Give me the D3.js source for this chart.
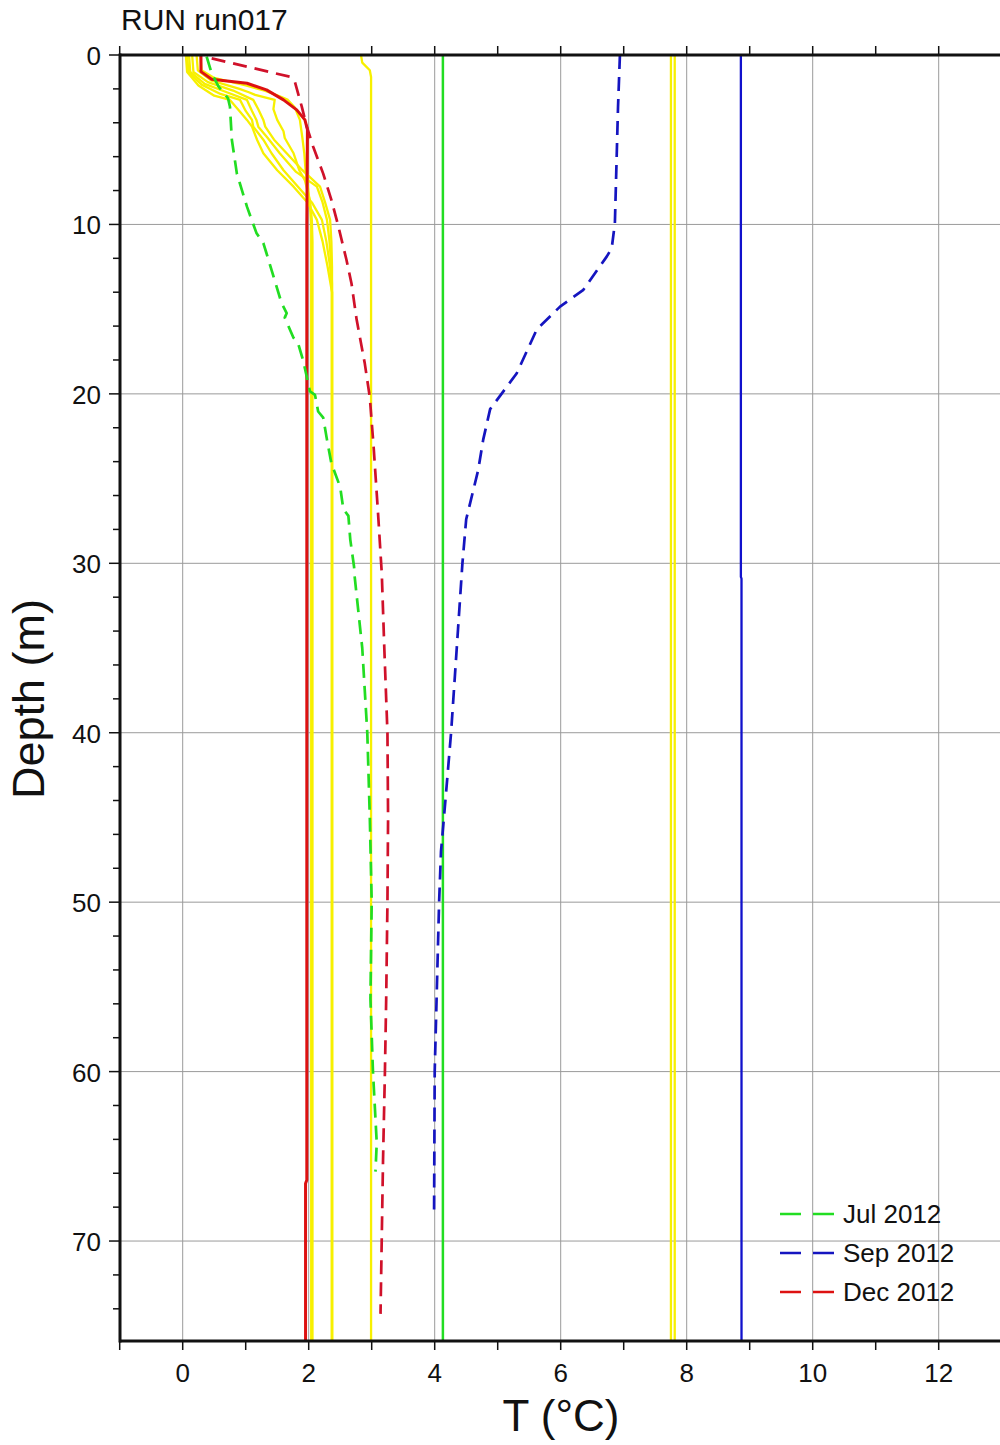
<!DOCTYPE html>
<html>
<head>
<meta charset="utf-8">
<script src="https://cdn.jsdelivr.net/npm/d3@7"></script>
<style>
  html, body { margin: 0; padding: 0; background: #fff; }
  svg { display: block; font-family: "Liberation Sans", Arial, Helvetica, sans-serif; }
</style>
</head>
<body>
<svg id="chart" width="1000" height="1445"></svg>
<script>
// ---------------- DATA ----------------
const title = "RUN run017";
const xLabel = "T (°C)";
const yLabel = "Depth (m)";
const xTicks = [0, 2, 4, 6, 8, 10, 12];
const yTicks = [0, 10, 20, 30, 40, 50, 60, 70];
const legendLabels = ["Jul 2012", "Sep 2012", "Dec 2012"];

// model run profiles (yellow, solid): [T, depth]
const runA = [[0.28,0],[0.3,0.9],[0.5,1.35],[1.0,1.8],[1.3,2.1],[1.55,2.45],[1.67,2.65],[1.78,3.1],[1.86,3.83],[1.9,4.9],[1.93,5.8],[1.95,6.8],[1.98,7.6],[2.02,8.8],[2.04,10],[2.04,75.9]];
const runB = [[0.22,0],[0.24,0.9],[0.45,1.5],[0.9,2.0],[1.05,2.2],[1.15,2.35],[1.46,2.65],[1.44,3.2],[1.5,3.83],[1.6,4.5],[1.62,4.9],[1.76,5.8],[1.85,6.8],[1.94,7.4],[2.02,8.6],[2.05,9.73],[2.06,11],[2.06,75.9]];
const runC = [[0.15,0],[0.17,1.0],[0.4,1.6],[0.8,2.1],[1.12,2.65],[1.2,3.2],[1.28,3.83],[1.31,4.23],[1.45,5.0],[1.65,5.8],[1.9,6.8],[2.18,7.77],[2.26,8.7],[2.34,9.73],[2.36,11],[2.37,12.5],[2.37,75.9]];
const runD = [[0.1,0],[0.12,1.0],[0.35,1.7],[0.7,2.2],[1.02,2.65],[1.1,3.3],[1.17,3.83],[1.2,4.23],[1.35,4.9],[1.54,5.8],[1.8,6.9],[2.13,7.77],[2.22,8.7],[2.29,9.73],[2.33,11],[2.36,12.5],[2.37,13.5],[2.37,75.9]];
const runE = [[0.07,0],[0.09,1.0],[0.3,1.75],[0.6,2.3],[0.91,2.65],[1.0,3.3],[1.1,3.83],[1.12,4.23],[1.28,5.0],[1.41,5.8],[1.6,6.8],[1.83,7.77],[2.05,8.7],[2.21,9.73],[2.28,11],[2.34,12.5],[2.37,14],[2.37,75.9]];
const runF = [[0.05,0],[0.07,1.0],[0.25,1.8],[0.5,2.4],[0.75,2.65],[0.9,3.3],[1.02,3.83],[1.1,4.23],[1.18,5.0],[1.28,5.8],[1.5,6.8],[1.76,7.77],[1.98,8.7],[2.13,9.73],[2.22,11],[2.3,12.5],[2.37,14],[2.37,75.9]];
const runG = [[2.83,0],[2.85,0.45],[2.97,0.9],[2.99,1.3],[2.99,75.9]];
const runH = [[7.75,0],[7.75,75.9]];
const runI = [[7.81,0],[7.81,75.9]];
const yellowRuns = [runA, runB, runC, runD, runE, runF, runG, runH, runI];

// model run profiles (coloured, solid)
const runGreen = [[4.13,0],[4.13,75.9]];
const runBlue = [[8.86,0],[8.86,30.8],[8.87,30.9],[8.87,75.9]];
const runRed = [[0.29,0],[0.29,0.98],[0.46,1.43],[1.02,1.67],[1.33,2.06],[1.6,2.65],[1.81,3.24],[1.94,3.83],[1.98,4.4],[1.97,10],[1.97,66.4],[1.95,66.6],[1.95,75.9]];

// observations (dashed)
const obsJul = [[0.38,0.1],[0.46,1.08],[0.57,1.87],[0.72,2.56],[0.75,3.05],[0.78,5.0],[0.86,7.0],[1.02,8.95],[1.17,10.5],[1.28,11.1],[1.33,11.7],[1.46,13.3],[1.57,14.65],[1.65,15.24],[1.62,15.5],[1.76,16.7],[1.83,17],[1.91,18],[1.97,19.0],[2.02,19.86],[2.1,20.06],[2.15,21.04],[2.23,21.4],[2.29,22.7],[2.36,24.1],[2.5,25.5],[2.55,26.8],[2.63,27.2],[2.66,28.6],[2.72,30.2],[2.73,30.8],[2.85,35],[2.93,40],[2.97,45],[3.0,50],[2.98,55.7],[3.02,60],[3.08,64.2],[3.06,65.9]];
const obsSep = [[6.94,0],[6.91,3.05],[6.86,9.93],[6.81,11.4],[6.73,11.9],[6.36,13.86],[5.99,14.85],[5.62,16.2],[5.3,18.8],[4.88,20.9],[4.77,22.7],[4.69,24.5],[4.5,27.4],[4.44,30],[4.37,33.9],[4.26,40],[4.17,44],[4.1,47],[4.07,50],[4.03,55.7],[4.0,60],[3.99,68.3]];
const obsDec = [[0.46,0.2],[1.7,1.28],[1.78,1.57],[1.89,3.05],[1.97,4.23],[2.07,5.4],[2.23,7.0],[2.36,8.55],[2.47,10.1],[2.6,12.1],[2.68,13.5],[2.76,15.6],[2.89,18.2],[2.97,20.2],[3.03,23.1],[3.1,27.0],[3.16,30.6],[3.2,35],[3.25,40],[3.26,45],[3.25,50],[3.23,55.7],[3.21,60],[3.18,65.2],[3.14,74.3]];

// ---------------- DRAW ----------------
const svg = d3.select("#chart");
const L = 120, R = 1001, T = 55, B = 1341;
const x = d3.scaleLinear().domain([-1, 13]).range([119.7, 1001.7]);
const y = d3.scaleLinear().domain([0, 75.9]).range([T, B]);

const cYellow = "#f7f000", cGreen = "#22dd22", cBlue = "#1111cc", cRed = "#dd1111";

svg.append("defs").append("clipPath").attr("id", "clip")
  .append("rect").attr("x", L).attr("y", T).attr("width", R - L).attr("height", B - T);

// grid
const grid = svg.append("g").attr("stroke", "#9a9a9a").attr("stroke-width", 1);
grid.selectAll(".gx").data(xTicks).join("line")
  .attr("x1", d => x(d)).attr("x2", d => x(d)).attr("y1", T).attr("y2", B);
grid.selectAll(".gy").data(yTicks.filter(d => d > 0)).join("line")
  .attr("x1", L).attr("x2", R).attr("y1", d => y(d)).attr("y2", d => y(d));

const line = d3.line().x(d => x(d[0])).y(d => y(d[1]));
const plot = svg.append("g").attr("clip-path", "url(#clip)").attr("fill", "none")
  .attr("stroke-linejoin", "round");

plot.selectAll(".yl").data(yellowRuns).join("path")
  .attr("d", line).attr("stroke", cYellow).attr("stroke-width", 2.3);

plot.append("path").attr("d", line(runGreen)).attr("stroke", cGreen).attr("stroke-width", 2.5);
plot.append("path").attr("d", line(runBlue)).attr("stroke", cBlue).attr("stroke-width", 2.3);
plot.append("path").attr("d", line(runRed)).attr("stroke", cRed).attr("stroke-width", 3);

const dash = "14,8";
plot.append("path").attr("d", line(obsDec)).attr("stroke", "#d0112a").attr("stroke-width", 2.7).attr("stroke-dasharray", dash);
plot.append("path").attr("d", line(obsJul)).attr("stroke", cGreen).attr("stroke-width", 2.7).attr("stroke-dasharray", dash);
plot.append("path").attr("d", line(obsSep)).attr("stroke", "#1515c0").attr("stroke-width", 2.7).attr("stroke-dasharray", dash);

// axes
const xMinor = d3.range(-1, 14, 1);
const yMinor = d3.range(0, 76, 2);
const ax = svg.append("g").attr("stroke", "#111");
ax.selectAll(".tt").data(xMinor).join("line")
  .attr("x1", d => x(d)).attr("x2", d => x(d)).attr("y1", T).attr("y2", T - 9).attr("stroke-width", 1.5);
ax.selectAll(".bt").data(xMinor).join("line")
  .attr("x1", d => x(d)).attr("x2", d => x(d)).attr("y1", B).attr("y2", B + 9).attr("stroke-width", 1.5);
ax.selectAll(".lt").data(yMinor).join("line")
  .attr("x1", L).attr("x2", d => L - (d % 10 === 0 ? 11 : 7))
  .attr("y1", d => y(d)).attr("y2", d => y(d)).attr("stroke-width", 1.5);
ax.append("line").attr("x1", L).attr("x2", 1000).attr("y1", T).attr("y2", T).attr("stroke-width", 3);
ax.append("line").attr("x1", L).attr("x2", 1000).attr("y1", B).attr("y2", B).attr("stroke-width", 3);
ax.append("line").attr("x1", L).attr("x2", L).attr("y1", T - 1.5).attr("y2", B + 1.5).attr("stroke-width", 3);

// tick labels
svg.append("g").selectAll("text").data(xTicks).join("text")
  .attr("x", d => x(d)).attr("y", 1382).attr("text-anchor", "middle")
  .attr("font-size", 26).attr("fill", "#111").text(d => d);
svg.append("g").selectAll("text").data(yTicks).join("text")
  .attr("x", 101).attr("y", d => y(d) + 10).attr("text-anchor", "end")
  .attr("font-size", 26).attr("fill", "#111").text(d => d);

// titles
svg.append("text").attr("x", 121).attr("y", 30).attr("font-size", 30).attr("fill", "#111").text(title);
svg.append("text").attr("x", 561).attr("y", 1431).attr("text-anchor", "middle")
  .attr("font-size", 44).attr("fill", "#111").text(xLabel);
svg.append("text").attr("transform", "translate(44,699) rotate(-90)").attr("text-anchor", "middle")
  .attr("font-size", 45).attr("fill", "#111").text(yLabel);

// legend
const legColors = [cGreen, "#1515c0", cRed];
const leg = svg.append("g");
legendLabels.forEach((lab, i) => {
  const ly = 1214 + i * 39;
  leg.append("line").attr("x1", 780).attr("x2", 834).attr("y1", ly).attr("y2", ly)
    .attr("stroke", legColors[i]).attr("stroke-width", 2.5).attr("stroke-dasharray", "21,12");
  leg.append("text").attr("x", 843).attr("y", ly + 9).attr("font-size", 26).attr("fill", "#111").text(lab);
});
</script>
</body>
</html>
